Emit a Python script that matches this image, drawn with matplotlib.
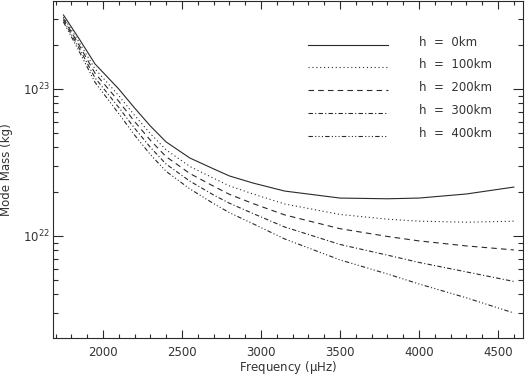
import matplotlib
matplotlib.use("Agg")
import matplotlib.pyplot as plt
from matplotlib.lines import Line2D
from matplotlib.ticker import MultipleLocator, LogLocator, NullFormatter

plt.rcParams['font.family'] = ['DejaVu Sans']
plt.rcParams['lines.scale_dashes'] = False
plt.rcParams['mathtext.default'] = 'regular'

# ---- data ----
freq = [1750, 1850, 1950, 2100, 2200, 2300, 2400, 2550, 2700, 2800,
        2950, 3150, 3500, 3800, 4000, 4300, 4600]
mass_h0 = [3.19e23, 2.19e23, 1.48e23, 1.00e23, 7.43e22, 5.60e22, 4.36e22, 3.39e22, 2.86e22, 2.56e22,
           2.29e22, 2.02e22, 1.81e22, 1.79e22, 1.81e22, 1.93e22, 2.15e22]
mass_h100 = [3.09e23, 2.07e23, 1.37e23, 9.02e22, 6.62e22, 4.97e22, 3.85e22, 2.97e22, 2.47e22, 2.19e22,
             1.93e22, 1.65e22, 1.40e22, 1.30e22, 1.26e22, 1.24e22, 1.26e22]
mass_h200 = [3.02e23, 1.98e23, 1.28e23, 8.25e22, 6.01e22, 4.48e22, 3.46e22, 2.66e22, 2.18e22, 1.92e22,
             1.66e22, 1.39e22, 1.12e22, 9.92e21, 9.25e21, 8.55e21, 8.03e21]
mass_h300 = [2.94e23, 1.89e23, 1.19e23, 7.49e22, 5.41e22, 4.01e22, 3.08e22, 2.36e22, 1.90e22, 1.67e22,
             1.42e22, 1.15e22, 8.75e21, 7.40e21, 6.60e21, 5.69e21, 4.90e21]
mass_h400 = [2.86e23, 1.80e23, 1.11e23, 6.80e22, 4.86e22, 3.58e22, 2.75e22, 2.09e22, 1.66e22, 1.44e22,
             1.21e22, 9.54e21, 6.87e21, 5.51e21, 4.71e21, 3.79e21, 2.99e21]
labels = ["h  =  0km", "h  =  100km", "h  =  200km", "h  =  300km", "h  =  400km"]
series = [mass_h0, mass_h100, mass_h200, mass_h300, mass_h400]

# ---- style ----
W, H = 525, 376
col = '#2a2a2a'
lw = 0.8
styles = [
    '-',
    (0, (0.8, 2.0)),
    (0, (4.0, 3.0)),
    (0, (3.2, 1.6, 0.8, 1.6)),
    (0, (3.2, 1.6, 0.8, 1.6, 0.8, 1.6, 0.8, 1.6)),
]

fig = plt.figure(figsize=(W / 100, H / 100), dpi=100)
ax_l, ax_r, ax_t, ax_b = 53, 523, 1, 338
ax = fig.add_axes([ax_l / W, 1 - ax_b / H, (ax_r - ax_l) / W, (ax_b - ax_t) / H])

for m, ls in zip(series, styles):
    ax.plot(freq, m, color=col, lw=lw, linestyle=ls)

ax.set_yscale('log')
ax.set_xlim(1684, 4658)
ax.set_ylim(2.02e21, 3.97e23)

ax.xaxis.set_major_locator(MultipleLocator(500))
ax.xaxis.set_minor_locator(MultipleLocator(100))
ax.yaxis.set_major_locator(LogLocator(base=10, numticks=10))
ax.yaxis.set_minor_locator(LogLocator(base=10, subs=range(2, 10), numticks=20))
ax.yaxis.set_minor_formatter(NullFormatter())

ax.tick_params(which='both', direction='in', top=True, right=True, color=col,
               width=0.8, labelcolor='#333333', labelsize=8.5)
ax.tick_params(axis='x', which='major', length=6, pad=6)
ax.tick_params(axis='x', which='minor', length=3)
ax.tick_params(axis='y', which='major', length=7, pad=2)
ax.tick_params(axis='y', which='minor', length=3.5)
for s in ax.spines.values():
    s.set_color(col)
    s.set_linewidth(0.8)

ax.set_xlabel(r'Frequency ($\mu$Hz)', fontsize=8.5, color='#333333')
ax.xaxis.set_label_coords(0.5, (ax_b - 359) / (ax_b - ax_t))
ax.set_ylabel('Mode Mass (kg)', fontsize=8.5, color='#333333')
ax.yaxis.set_label_coords((13 - ax_l) / (ax_r - ax_l), 0.5)

# ---- legend (manual, IDL style) ----
leg_y = [45, 67, 90, 113, 136]
for yy, ls, lab in zip(leg_y, styles, labels):
    fig.add_artist(Line2D([308 / W, 388 / W], [1 - yy / H, 1 - yy / H],
                          transform=fig.transFigure, color=col, lw=lw, linestyle=ls))
    fig.text(419 / W, 1 - (yy + 1) / H, lab, fontsize=8.5, color='#333333',
             ha='left', va='baseline')

fig.savefig('out.png', dpi=100)
